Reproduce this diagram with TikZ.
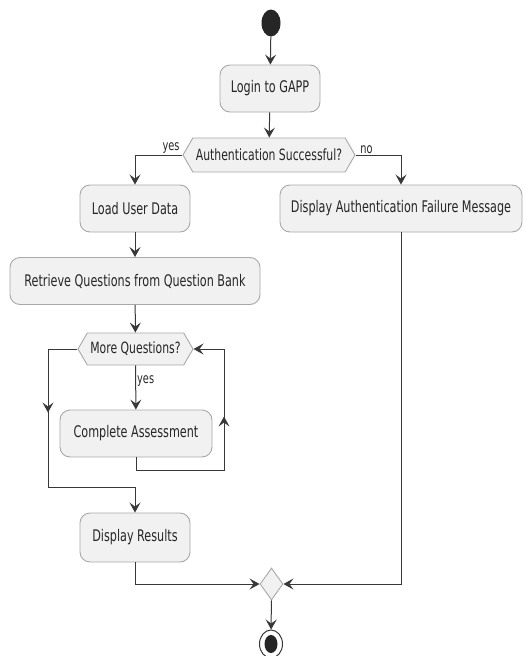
\documentclass[tikz,border=0pt]{standalone}
\usepackage{fontspec}
\setmainfont[FakeStretch=0.7]{DejaVu Sans}
\usetikzlibrary{shapes.symbols,shapes.geometric,arrows.meta,decorations.markings}
\definecolor{boxfill}{HTML}{F1F1F1}
\definecolor{boxline}{HTML}{A8A8A8}
\definecolor{flowline}{HTML}{383838}
\tikzset{
  act/.style={draw=boxline, fill=boxfill, line width=0.9pt, rounded corners=10pt,
    minimum height=47pt, inner sep=0pt, text=black!85, font=\fontsize{16}{18}\selectfont},
  decide/.style={signal, signal to=west and east, signal pointer angle=120,
    draw=boxline, fill=boxfill, line width=0.9pt, minimum height=34pt, inner sep=0pt,
    text=black!85, font=\fontsize{15.5}{18}\selectfont},
  flow/.style={draw=flowline, line width=1pt},
  tip/.style={-{Stealth[length=10pt,width=11pt,inset=4pt]}},
  lbl/.style={text=black!85, font=\fontsize{14}{16}\selectfont, inner sep=1pt}
}
\begin{document}
\begin{tikzpicture}[x=1pt,y=-1pt]
  \useasboundingbox (0,0) rectangle (526,656);
  % Start node
  \node[ellipse, fill=black!85, minimum width=19pt, minimum height=27pt, inner sep=0pt] (start) at (271,23) {};
  % Activities
  \node[act, minimum width=100pt] (login) at (270,88.5) {Login to GAPP};
  \node[decide, minimum width=172pt] (auth) at (269,155) {Authentication Successful?};
  \node[act, minimum width=110pt] (load) at (135,208.5) {Load User Data};
  \node[act, minimum width=242pt] (fail) at (401,208.5) {Display Authentication Failure Message};
  \node[act, minimum width=250pt] (retrieve) at (135,281) {Retrieve Questions from Question Bank};
  \node[decide, minimum width=115pt, minimum height=32pt] (more) at (135.5,349) {More Questions?};
  \node[act, minimum width=152pt] (assess) at (136,433.5) {Complete Assessment};
  \node[act, minimum width=110pt, minimum height=49pt] (results) at (135,537.5) {Display Results};
  % Merge and stop
  \node[diamond, draw=boxline, fill=boxfill, line width=0.9pt, minimum width=23pt, minimum height=32pt, inner sep=0pt] (merge) at (271.5,584) {};
  \node[ellipse, draw=flowline, fill=white, line width=1pt, minimum width=23pt, minimum height=28pt, inner sep=0pt] (stop) at (271,644) {};
  \node[ellipse, fill=black!85, minimum width=13pt, minimum height=18pt, inner sep=0pt] at (stop) {};
  % Loop corners
  \coordinate (lcorner) at (48,487);
  \coordinate (rcorner) at (224,470);
  % Main flow
  \draw[flow, tip] (start) -- (login);
  \draw[flow, tip] (login) -- (auth);
  \draw[flow, tip] (auth.west) -| (load.north) node[pos=0.12, above, lbl] {yes};
  \draw[flow, tip] (auth.east) -| (fail.north) node[pos=0.12, above, lbl] {no};
  \draw[flow, tip] (load) -- (retrieve);
  \draw[flow, tip] (retrieve) -- (more);
  \draw[flow, tip] (more) -- (assess) node[pos=0.35, right, lbl] {yes};
  % Loop back
  \draw[flow, tip, postaction={decorate}, decoration={markings,
      mark=at position 154pt with {\arrow{Stealth[length=10pt,width=11pt,inset=4pt]}}}]
    (assess.south) |- (rcorner) |- (more.east);
  % Exit of loop
  \draw[flow, tip, postaction={decorate}, decoration={markings,
      mark=at position 93pt with {\arrow{Stealth[length=10pt,width=11pt,inset=4pt]}}}]
    (more.west) -| (lcorner) -| (results.north);
  % Join
  \draw[flow, tip] (results.south) |- (merge.west);
  \draw[flow, tip] (fail.south) |- (merge.east);
  \draw[flow, tip] (merge) -- (stop);
\end{tikzpicture}
\end{document}
